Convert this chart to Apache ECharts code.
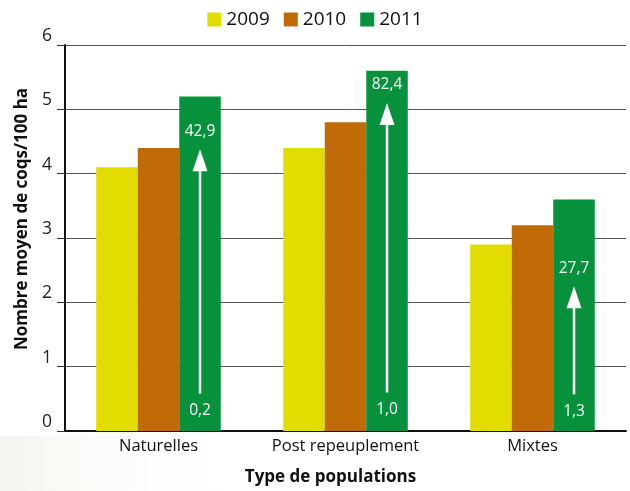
<!DOCTYPE html>
<html><head><meta charset="utf-8">
<script src="https://cdn.jsdelivr.net/npm/echarts@6/dist/echarts.min.js"></script>
<style>html,body{margin:0;padding:0;background:#fff}#c{width:630px;height:491px}</style>
</head><body><div id="c"></div>
<script>
const categories = ['Naturelles', 'Post repeuplement', 'Mixtes'];
const years = ['2009', '2010', '2011'];
const v2009 = [4.1, 4.4, 2.9];
const v2010 = [4.4, 4.8, 3.2];
const v2011 = [5.2, 5.6, 3.6];
// arrows inside the 2011 bars: start value, tip value, labels
const arrowStart = [0.58, 0.6, 0.57];
const arrowEnd = [4.38, 5.1, 2.25];
const labelTop = ['42,9', '82,4', '27,7'];
const labelBottom = ['0,2', '1,0', '1,3'];
const colors = ['#e2dc00', '#c16a08', '#07913c'];
const FONT = '"Open Sans", "Noto Sans", sans-serif';
const BARW = 0.222;

const chart = echarts.init(document.getElementById('c'));
const arrowData = categories.map((c, i) => [i, arrowStart[i], arrowEnd[i], labelTop[i], labelBottom[i]]);

chart.setOption({
  animation: false,
  backgroundColor: '#fff',
  textStyle: { fontFamily: FONT },
  graphic: [{
    type: 'rect', z: -10, left: 0, top: 436, silent: true,
    shape: { width: 260, height: 55 },
    style: { fill: new echarts.graphic.LinearGradient(0, 0, 1, 0, [
      { offset: 0, color: 'rgba(238,238,228,0.6)' }, { offset: 1, color: 'rgba(255,255,255,0)' }]) }
  }],
  legend: {
    top: 5, left: 'center',
    itemWidth: 14, itemHeight: 14, itemGap: 14,
    icon: 'rect',
    textStyle: { fontSize: 19, color: '#111', fontFamily: FONT },
    data: years
  },
  grid: { left: 65, right: 4, top: 45, bottom: 59, containLabel: false },
  xAxis: {
    type: 'category', data: categories,
    axisLine: { lineStyle: { color: '#111', width: 2 } },
    axisTick: { show: false },
    axisLabel: { fontSize: 16.5, color: '#111', margin: 7, fontFamily: FONT, interval: 0, hideOverlap: false },
    name: 'Type de populations', nameLocation: 'middle', nameGap: 38,
    nameTextStyle: { fontSize: 17, fontWeight: 'bold', color: '#111', padding: [0, 30, 0, 0], fontFamily: FONT }
  },
  yAxis: {
    type: 'value', min: 0, max: 6, interval: 1,
    axisLine: { show: true, lineStyle: { color: '#111', width: 2 } },
    axisTick: { show: true, length: 8, lineStyle: { color: '#333' } },
    splitLine: { lineStyle: { color: '#555', width: 1 } },
    axisLabel: { fontSize: 17.5, color: '#222', margin: 13, fontFamily: FONT, verticalAlign: 'bottom' },
    name: 'Nombre moyen de coqs/100 ha', nameLocation: 'middle', nameGap: 32,
    nameTextStyle: { fontSize: 17, fontWeight: 'bold', color: '#111', padding: [0, 0, 0, 38], fontFamily: FONT }
  },
  series: [
    { name: years[0], type: 'bar', data: v2009, barWidth: (BARW*100)+'%', barGap: '0%', itemStyle: { color: colors[0] } },
    { name: years[1], type: 'bar', data: v2010, barWidth: (BARW*100)+'%', barGap: '0%', itemStyle: { color: colors[1] } },
    { name: years[2], type: 'bar', data: v2011, barWidth: (BARW*100)+'%', barGap: '0%', itemStyle: { color: colors[2] } },
    {
      type: 'custom', data: arrowData, z: 10, silent: true,
      renderItem: function (params, api) {
        const idx = api.value(0);
        const bw = api.size([1, 0])[0] * BARW;
        const x = api.coord([idx, 0])[0] + bw;
        const y0 = api.coord([idx, api.value(1)])[1];
        const y1 = api.coord([idx, api.value(2)])[1];
        const headH = 22, headW = 15;
        return {
          type: 'group',
          children: [
            { type: 'line', shape: { x1: x, y1: y0, x2: x, y2: y1 + headH - 2 }, style: { stroke: '#fff', lineWidth: 2.5 } },
            { type: 'polygon', shape: { points: [[x, y1], [x - headW / 2, y1 + headH], [x + headW / 2, y1 + headH]] }, style: { fill: '#fff' } },
            { type: 'text', x: x, y: y1 - 10, style: { text: api.value(3), fill: '#fff', fontSize: 15.5, fontFamily: FONT, align: 'center', verticalAlign: 'bottom' } },
            { type: 'text', x: x, y: y0 + 9, style: { text: api.value(4), fill: '#fff', fontSize: 15.5, fontFamily: FONT, align: 'center', verticalAlign: 'top' } }
          ]
        };
      }
    }
  ]
});
</script></body></html>
